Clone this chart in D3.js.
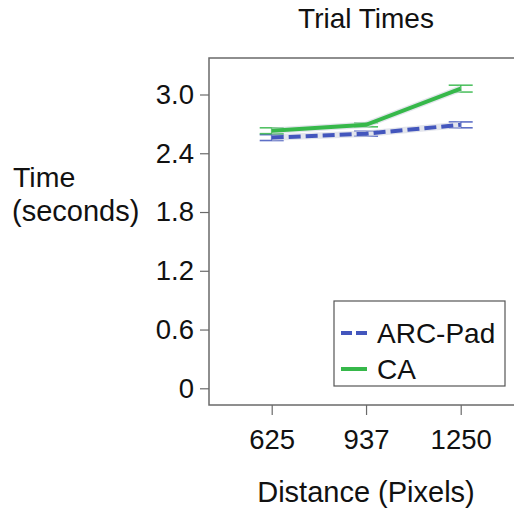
<!DOCTYPE html>
<html><head><meta charset="utf-8">
<script src="https://cdn.jsdelivr.net/npm/d3@7"></script>
<style>body{margin:0;background:#fff;}svg{display:block;font-family:"Liberation Sans",Arial,sans-serif;}</style>
</head><body>
<svg id="c" width="514" height="508"></svg>
<script>
const distances = [625, 937, 1250];
const xTickLabels = ["625", "937", "1250"];
const yTicks = [0, 0.6, 1.2, 1.8, 2.4, 3.0];
const yTickLabels = ["0", "0.6", "1.2", "1.8", "2.4", "3.0"];
const seriesNames = ["ARC-Pad", "CA"];
const arcPadTimes = [2.56, 2.60, 2.69];
const arcPadErr = [0.03, 0.025, 0.03];
const caTimes = [2.63, 2.69, 3.06];
const caErr = [0.03, 0.02, 0.035];

const svg = d3.select("#c");
const box = {left: 209, right: 530, top: 58, bottom: 405};
const x = d3.scaleLinear().domain([625, 1250]).range([271.7, 460.7]);
const y = d3.scaleLinear().domain([0, 3.0]).range([388.3, 94.5]);

const series = [
  {name: seriesNames[0], vals: arcPadTimes, err: arcPadErr, color: "#4356bd", dash: "12,5"},
  {name: seriesNames[1], vals: caTimes, err: caErr, color: "#36b84a", dash: null}
];

// frame
svg.append("rect").attr("x", box.left).attr("y", box.top)
  .attr("width", box.right - box.left).attr("height", box.bottom - box.top)
  .attr("fill", "none").attr("stroke", "#6a6a6a").attr("stroke-width", 1.5);

// y axis
const yAxis = d3.axisLeft(y).tickValues(yTicks).tickSize(9).tickPadding(6)
  .tickFormat((d, i) => yTickLabels[i]);
const gy = svg.append("g").attr("transform", `translate(${box.left},0)`).call(yAxis);
gy.select(".domain").remove();
gy.selectAll("line").attr("stroke", "#6a6a6a").attr("stroke-width", 1.2);
gy.selectAll("text").attr("font-size", 27.5).attr("fill", "#111")
  .attr("font-family", "Liberation Sans, Arial, sans-serif");

// x axis
const xAxis = d3.axisBottom(x).tickValues(distances).tickSize(10).tickPadding(14)
  .tickFormat((d, i) => xTickLabels[i]);
const gx = svg.append("g").attr("transform", `translate(0,${box.bottom})`).call(xAxis);
gx.select(".domain").remove();
gx.selectAll("line").attr("stroke", "#6a6a6a").attr("stroke-width", 1.2);
gx.selectAll("text").attr("font-size", 27.5).attr("fill", "#111")
  .attr("font-family", "Liberation Sans, Arial, sans-serif");

// lines
const line = d3.line().x(d => x(d.d)).y(d => y(d.v));
series.forEach(s => {
  const pts = distances.map((d, i) => ({d, v: s.vals[i], e: s.err[i]}));
  const g = svg.append("g");
  pts.forEach(p => {
    const cx = x(p.d), y1 = y(p.v + p.e), y2 = y(p.v - p.e);
    [[cx - 12, y1, cx + 12, y1], [cx - 12, y2, cx + 12, y2], [cx, y1, cx, y2]].forEach(c => {
      g.append("line").attr("x1", c[0]).attr("y1", c[1]).attr("x2", c[2]).attr("y2", c[3])
        .attr("stroke", s.color).attr("stroke-width", 1.6).attr("opacity", 0.85);
    });
  });
  g.append("path").datum(pts).attr("d", line).attr("fill", "none")
    .attr("stroke", "#d0d3e0").attr("stroke-width", 6.5).attr("opacity", 0.6);
  g.append("path").datum(pts).attr("d", line).attr("fill", "none")
    .attr("stroke", s.color).attr("stroke-width", 4)
    .attr("stroke-dasharray", s.dash);
});

// legend
const lg = svg.append("g");
lg.append("rect").attr("x", 334).attr("y", 301).attr("width", 171).attr("height", 85)
  .attr("fill", "#fff").attr("stroke", "#555").attr("stroke-width", 1.2);
series.forEach((s, i) => {
  const ly = 333 + i * 36;
  lg.append("line").attr("x1", 341).attr("x2", 367).attr("y1", ly).attr("y2", ly)
    .attr("stroke", s.color).attr("stroke-width", 4).attr("stroke-dasharray", s.dash ? "11,4" : null);
  lg.append("text").attr("x", 377).attr("y", ly + 10).attr("font-size", 28)
    .attr("fill", "#111").text(s.name);
});

// titles
svg.append("text").attr("x", 366).attr("y", 28).attr("text-anchor", "middle")
  .attr("font-size", 28).attr("fill", "#111").text("Trial Times");
svg.append("text").attr("x", 366).attr("y", 502).attr("text-anchor", "middle")
  .attr("font-size", 29).attr("fill", "#111").text("Distance (Pixels)");
svg.append("text").attr("x", 13).attr("y", 187).attr("font-size", 28.5)
  .attr("fill", "#111").text("Time");
svg.append("text").attr("x", 12).attr("y", 221).attr("font-size", 29)
  .attr("fill", "#111").text("(seconds)");
</script>
</body></html>
